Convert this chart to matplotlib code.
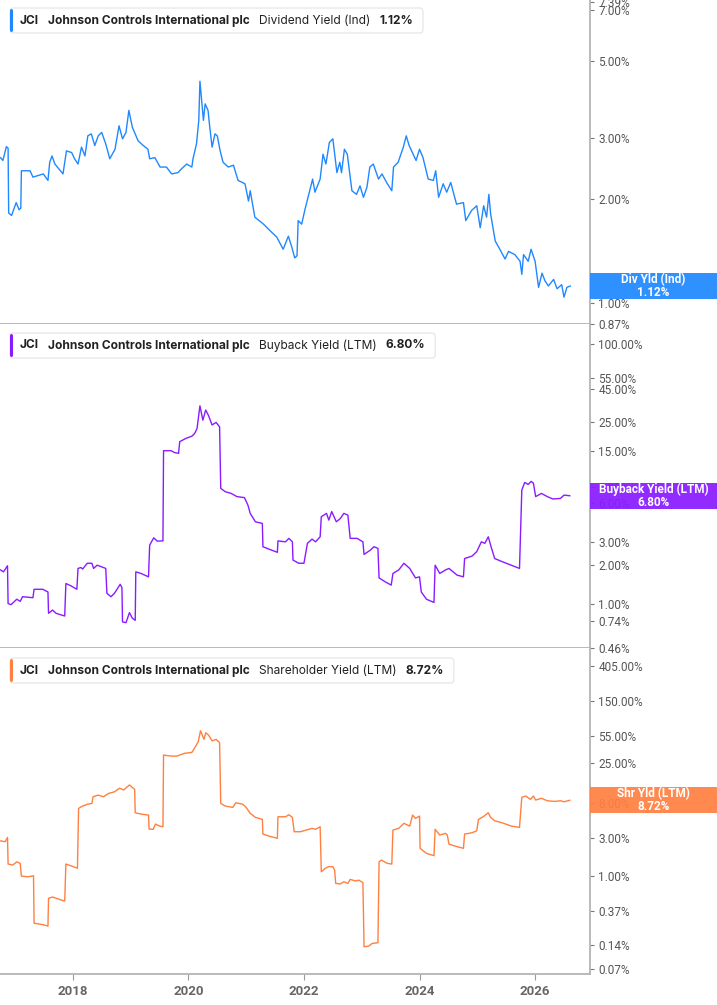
import matplotlib
matplotlib.use('Agg')
import matplotlib.pyplot as plt
from matplotlib.patches import Rectangle, FancyBboxPatch
from matplotlib.ticker import FixedLocator, NullLocator, FixedFormatter

# ---- data (decimal year, yield in %) ----
div_dates = [2016.75, 2016.79, 2016.85, 2016.88, 2016.89, 2016.94, 2017.02, 2017.07, 2017.10, 2017.11,
             2017.26, 2017.31, 2017.49, 2017.57, 2017.60, 2017.64, 2017.69, 2017.83, 2017.89, 2017.98,
             2018.03, 2018.09, 2018.15, 2018.21, 2018.26, 2018.32, 2018.38, 2018.44, 2018.50, 2018.57,
             2018.64, 2018.73, 2018.80, 2018.86, 2018.92, 2018.97, 2019.03, 2019.13, 2019.22, 2019.30,
             2019.33, 2019.42, 2019.51, 2019.62, 2019.71, 2019.82, 2019.88, 2019.97, 2020.06, 2020.08,
             2020.14, 2020.18, 2020.20, 2020.23, 2020.26, 2020.29, 2020.34, 2020.37, 2020.41, 2020.46,
             2020.50, 2020.55, 2020.60, 2020.69, 2020.78, 2020.86, 2020.98, 2021.04, 2021.07, 2021.15,
             2021.30, 2021.41, 2021.53, 2021.64, 2021.73, 2021.79, 2021.84, 2021.88, 2021.90, 2021.96,
             2022.02, 2022.07, 2022.15, 2022.19, 2022.28, 2022.33, 2022.38, 2022.44, 2022.50, 2022.57,
             2022.62, 2022.65, 2022.70, 2022.75, 2022.83, 2022.91, 2022.97, 2023.03, 2023.09, 2023.14,
             2023.20, 2023.29, 2023.35, 2023.43, 2023.52, 2023.55, 2023.63, 2023.72, 2023.77, 2023.82,
             2023.89, 2023.94, 2024.00, 2024.06, 2024.15, 2024.24, 2024.28, 2024.33, 2024.41, 2024.47,
             2024.54, 2024.64, 2024.76, 2024.80, 2024.90, 2024.99, 2025.05, 2025.11, 2025.16, 2025.20,
             2025.23, 2025.31, 2025.39, 2025.48, 2025.54, 2025.65, 2025.74, 2025.77, 2025.80, 2025.88,
             2025.93, 2026.00, 2026.06, 2026.12, 2026.17, 2026.23, 2026.32, 2026.38, 2026.46, 2026.50,
             2026.55, 2026.61]
div_yield = [2.63, 2.58, 2.83, 2.80, 1.82, 1.79, 1.95, 1.86, 1.88, 2.41,
             2.41, 2.31, 2.36, 2.26, 2.55, 2.66, 2.52, 2.36, 2.75, 2.72,
             2.61, 2.52, 2.82, 2.66, 3.04, 3.08, 2.85, 3.04, 3.11, 2.88,
             2.61, 2.78, 3.25, 2.98, 3.11, 3.60, 3.22, 2.94, 2.85, 2.78,
             2.61, 2.63, 2.47, 2.47, 2.36, 2.38, 2.44, 2.52, 2.47, 2.61,
             2.88, 3.37, 4.37, 3.84, 3.37, 3.76, 3.60, 3.22, 2.82, 3.08,
             3.04, 2.75, 2.55, 2.47, 2.50, 2.26, 2.21, 1.97, 2.11, 1.77,
             1.69, 1.62, 1.55, 1.43, 1.56, 1.45, 1.35, 1.37, 1.73, 1.69,
             1.87, 2.02, 2.28, 2.09, 2.28, 2.69, 2.52, 2.91, 2.98, 2.38,
             2.55, 2.38, 2.78, 2.69, 2.11, 2.06, 2.18, 2.02, 2.16, 2.47,
             2.52, 2.28, 2.36, 2.23, 2.11, 2.47, 2.55, 2.82, 3.04, 2.85,
             2.69, 2.58, 2.78, 2.63, 2.28, 2.26, 2.41, 2.02, 2.21, 2.09,
             2.23, 1.93, 1.95, 1.73, 1.85, 1.91, 1.65, 1.91, 1.77, 2.06,
             1.81, 1.51, 1.43, 1.34, 1.41, 1.38, 1.32, 1.21, 1.38, 1.32,
             1.43, 1.32, 1.11, 1.22, 1.16, 1.12, 1.17, 1.10, 1.13, 1.04,
             1.11, 1.12]

buy_dates = [2016.75, 2016.80, 2016.87, 2016.88, 2016.93, 2017.03, 2017.09, 2017.13, 2017.31, 2017.33,
             2017.48, 2017.57, 2017.58, 2017.65, 2017.71, 2017.86, 2017.88, 2017.97, 2018.07, 2018.09,
             2018.14, 2018.17, 2018.25, 2018.33, 2018.36, 2018.42, 2018.49, 2018.57, 2018.59, 2018.66,
             2018.72, 2018.82, 2018.85, 2018.86, 2018.92, 2018.98, 2019.03, 2019.08, 2019.09, 2019.18,
             2019.31, 2019.33, 2019.40, 2019.46, 2019.56, 2019.57, 2019.70, 2019.76, 2019.83, 2019.85,
             2019.96, 2020.06, 2020.11, 2020.15, 2020.20, 2020.25, 2020.30, 2020.35, 2020.41, 2020.48,
             2020.54, 2020.56, 2020.64, 2020.74, 2020.84, 2020.97, 2021.03, 2021.07, 2021.16, 2021.28,
             2021.29, 2021.39, 2021.54, 2021.55, 2021.68, 2021.74, 2021.80, 2021.81, 2021.91, 2022.00,
             2022.06, 2022.14, 2022.20, 2022.28, 2022.30, 2022.39, 2022.43, 2022.48, 2022.56, 2022.63,
             2022.69, 2022.76, 2022.80, 2022.92, 2023.02, 2023.04, 2023.15, 2023.21, 2023.28, 2023.30,
             2023.41, 2023.51, 2023.54, 2023.64, 2023.73, 2023.83, 2023.93, 2024.00, 2024.03, 2024.12,
             2024.25, 2024.27, 2024.35, 2024.45, 2024.51, 2024.58, 2024.65, 2024.76, 2024.78, 2024.91,
             2024.99, 2025.07, 2025.13, 2025.19, 2025.23, 2025.30, 2025.43, 2025.59, 2025.73, 2025.77,
             2025.82, 2025.88, 2025.93, 2025.97, 2026.01, 2026.11, 2026.21, 2026.31, 2026.44, 2026.50,
             2026.60]
buy_yield = [1.83, 1.77, 1.97, 1.01, 0.99, 1.09, 1.05, 1.14, 1.12, 1.30,
             1.30, 1.24, 0.85, 0.90, 0.85, 0.81, 1.44, 1.38, 1.30, 1.88,
             1.91, 1.86, 2.06, 2.06, 1.88, 1.99, 1.94, 1.88, 1.21, 1.14,
             1.21, 1.42, 1.34, 0.73, 0.72, 0.86, 0.78, 0.75, 1.77, 1.72,
             1.62, 2.84, 3.23, 3.05, 3.06, 15.1, 15.1, 14.6, 14.4, 17.7,
             18.8, 19.5, 20.5, 22.4, 33.4, 25.9, 31.0, 28.0, 23.8, 24.9,
             23.0, 7.75, 7.30, 7.09, 6.70, 6.58, 5.77, 4.98, 4.29, 4.17,
             2.76, 2.65, 2.50, 3.06, 3.01, 3.20, 3.01, 2.18, 2.06, 2.06,
             2.93, 3.16, 3.01, 3.29, 4.69, 4.98, 4.42, 5.14, 4.29, 4.55,
             4.98, 4.83, 3.20, 3.20, 3.01, 2.41, 2.60, 2.76, 2.68, 1.59,
             1.48, 1.40, 1.72, 1.83, 2.06, 1.88, 1.59, 1.62, 1.24, 1.09,
             1.03, 1.99, 1.72, 1.83, 1.88, 1.77, 1.67, 1.62, 2.24, 2.34,
             2.53, 3.01, 2.93, 3.29, 2.84, 2.24, 2.12, 1.99, 1.88, 7.52,
             8.61, 8.31, 8.77, 8.50, 6.70, 7.09, 6.70, 6.42, 6.49, 6.88,
             6.80]

shr_dates = [2016.74, 2016.83, 2016.87, 2016.88, 2016.96, 2017.03, 2017.09, 2017.11, 2017.22, 2017.32,
             2017.33, 2017.48, 2017.57, 2017.58, 2017.65, 2017.78, 2017.86, 2017.88, 2018.01, 2018.08,
             2018.10, 2018.17, 2018.26, 2018.33, 2018.35, 2018.44, 2018.53, 2018.62, 2018.72, 2018.81,
             2018.88, 2018.98, 2019.07, 2019.08, 2019.18, 2019.31, 2019.32, 2019.39, 2019.43, 2019.50,
             2019.56, 2019.57, 2019.70, 2019.80, 2019.93, 2020.06, 2020.12, 2020.17, 2020.21, 2020.27,
             2020.30, 2020.35, 2020.41, 2020.48, 2020.54, 2020.56, 2020.64, 2020.77, 2020.82, 2020.94,
             2021.00, 2021.07, 2021.16, 2021.28, 2021.29, 2021.39, 2021.54, 2021.55, 2021.68, 2021.74,
             2021.80, 2021.83, 2021.94, 2022.04, 2022.14, 2022.20, 2022.28, 2022.30, 2022.37, 2022.43,
             2022.50, 2022.53, 2022.55, 2022.63, 2022.69, 2022.76, 2022.80, 2022.89, 2022.95, 2023.02,
             2023.04, 2023.12, 2023.18, 2023.28, 2023.30, 2023.34, 2023.44, 2023.52, 2023.54, 2023.64,
             2023.73, 2023.83, 2023.88, 2023.93, 2024.00, 2024.01, 2024.12, 2024.25, 2024.27, 2024.35,
             2024.45, 2024.48, 2024.51, 2024.61, 2024.76, 2024.78, 2024.91, 2024.99, 2025.02, 2025.10,
             2025.19, 2025.23, 2025.30, 2025.43, 2025.59, 2025.73, 2025.77, 2025.84, 2025.92, 2025.97,
             2026.01, 2026.11, 2026.21, 2026.34, 2026.44, 2026.50, 2026.60]
shr_yield = [2.74, 2.67, 3.02, 1.41, 1.37, 1.50, 1.44, 1.00, 0.98, 1.01,
             0.26, 0.25, 0.24, 0.53, 0.55, 0.51, 0.49, 1.41, 1.31, 1.25,
             6.92, 7.39, 7.80, 7.96, 9.64, 10.1, 9.64, 10.6, 11.1, 12.3,
             11.7, 13.5, 11.9, 6.10, 5.88, 5.71, 3.83, 3.80, 4.42, 4.17,
             4.09, 31.7, 30.8, 30.8, 33.3, 34.2, 40.2, 46.3, 63.5, 49.6,
             60.0, 56.0, 47.6, 49.6, 45.3, 7.96, 7.39, 7.11, 8.12, 7.80,
             7.11, 6.00, 5.35, 5.05, 3.32, 3.14, 2.94, 5.44, 5.44, 5.76,
             5.35, 3.55, 3.55, 3.72, 3.91, 3.80, 4.09, 1.13, 1.25, 1.31,
             1.31, 1.19, 0.81, 0.80, 0.85, 0.81, 0.91, 0.87, 0.89, 0.83,
             0.133, 0.135, 0.146, 0.149, 1.50, 1.58, 1.44, 1.41, 3.72, 3.91,
             4.51, 4.17, 5.71, 5.20, 5.55, 2.21, 1.91, 1.79, 3.80, 3.23,
             3.39, 3.23, 2.49, 2.36, 2.21, 3.32, 3.45, 3.65, 5.05, 5.44,
             6.10, 5.35, 4.85, 4.58, 4.17, 4.02, 9.47, 9.84, 8.94, 9.84,
             8.77, 9.23, 8.60, 8.44, 8.60, 8.35, 8.72]

div_ticks = [0.87, 1.00, 2.00, 3.00, 5.00, 7.00, 7.39]
buy_ticks = [0.46, 0.74, 1.00, 2.00, 3.00, 6.00, 8.00, 15.00, 25.00, 45.00, 55.00, 100.00]
shr_ticks = [0.07, 0.14, 0.37, 1.00, 3.00, 8.00, 25.00, 55.00, 150.00, 405.00]
year_ticks = [2018, 2020, 2022, 2024, 2026]

W, H = 717, 1005
fig = plt.figure(figsize=(W / 100, H / 100), dpi=100)
fig.patch.set_facecolor('white')
renderer = fig.canvas.get_renderer()


def fx(x):
    return x / W


def fy(y):
    return 1 - y / H


def make_panel(top, bottom, ylim, ticks, show_x=False):
    ax = fig.add_axes([0, fy(bottom), fx(590), (bottom - top) / H])
    ax.set_yscale('log')
    ax.set_ylim(*ylim)
    ax.set_xlim(2016.74, 2026.95)
    ax.yaxis.tick_right()
    ax.yaxis.set_major_locator(FixedLocator(ticks))
    ax.yaxis.set_major_formatter(FixedFormatter([f'{t:.2f}%' for t in ticks]))
    ax.yaxis.set_minor_locator(NullLocator())
    ax.tick_params(axis='y', direction='out', length=3, width=0.8, color='#777777',
                   labelsize=8.5, labelcolor='#555555', pad=3)
    for lab in ax.get_yticklabels():
        lab.set_fontfamily('Roboto')
    for s in ['left', 'top']:
        ax.spines[s].set_visible(False)
    for s in ['right', 'bottom']:
        ax.spines[s].set_color('#b4b4b4')
        ax.spines[s].set_linewidth(1.3)
    if show_x:
        ax.xaxis.set_major_locator(FixedLocator(year_ticks))
        ax.xaxis.set_major_formatter(FixedFormatter([str(y) for y in year_ticks]))
        ax.xaxis.set_minor_locator(NullLocator())
        ax.tick_params(axis='x', direction='out', length=4, width=0.8, color='#999999',
                       labelsize=9.5, labelcolor='#666666', pad=4)
        for lab in ax.get_xticklabels():
            lab.set_fontfamily('Roboto')
            lab.set_fontweight('bold')
    else:
        ax.set_xticks([])
    return ax


def legend_box(top, color, metric, value):
    yc = fy(top + 12.5)
    kw = dict(va='center', ha='left', fontsize=8.6, color='#222222', family='Inter', zorder=4)
    pieces = [('JCI', 'bold', 9), ('Johnson Controls International plc', 'bold', 9),
              (metric, 'normal', 9), (value, 'bold', 0)]
    x = 20
    for txt, weight, gap in pieces:
        t = fig.text(fx(x), yc, txt, fontweight=weight, **kw)
        bb = t.get_window_extent(renderer)
        x = bb.x1 + gap
    right = x + 10
    box = FancyBboxPatch((fx(10), fy(top + 25)), fx(right - 10), 25 / H,
                         boxstyle='round,pad=0,rounding_size=0.004',
                         transform=fig.transFigure, facecolor='white',
                         edgecolor='#e4e4e4', linewidth=0.8, zorder=2)
    fig.add_artist(box)
    bar = FancyBboxPatch((fx(10), fy(top + 24)), fx(3), 23 / H,
                         boxstyle='round,pad=0,rounding_size=0.002',
                         transform=fig.transFigure, facecolor=color,
                         edgecolor='none', zorder=3)
    fig.add_artist(bar)


def value_box(ax, last, color, name, value):
    ypix = ax.transData.transform((2020, last))[1]
    yc = ypix / H
    rect = Rectangle((fx(590), yc - 13 / H), fx(127), 26 / H, transform=fig.transFigure,
                     facecolor=color, edgecolor='none', alpha=0.93, zorder=5)
    fig.add_artist(rect)
    fig.text(fx(653.5), yc, f'{name}\n{value}', ha='center', va='center', color='white',
             fontsize=8.5, fontweight='bold', family='Roboto', linespacing=1.0, zorder=6)


blue = '#1f88ff'
purple = '#8a1bff'
orange = '#ff8040'

ax1 = make_panel(0, 324, (0.87, 7.5), div_ticks)
ax1.plot(div_dates, div_yield, color=blue, lw=1.0)

ax2 = make_panel(324, 648, (0.46, 142), buy_ticks)
ax2.plot(buy_dates, buy_yield, color=purple, lw=1.0)

ax3 = make_panel(648, 974, (0.061, 675), shr_ticks, show_x=True)
ax3.plot(shr_dates, shr_yield, color=orange, lw=1.0)

legend_box(8, blue, 'Dividend Yield (Ind)', '1.12%')
legend_box(333, purple, 'Buyback Yield (LTM)', '6.80%')
legend_box(658, orange, 'Shareholder Yield (LTM)', '8.72%')

value_box(ax1, div_yield[-1], blue, 'Div Yld (Ind)', '1.12%')
value_box(ax2, buy_yield[-1], purple, 'Buyback Yield (LTM)', '6.80%')
value_box(ax3, shr_yield[-1], orange, 'Shr Yld (LTM)', '8.72%')

fig.savefig('out.png', dpi=100)
